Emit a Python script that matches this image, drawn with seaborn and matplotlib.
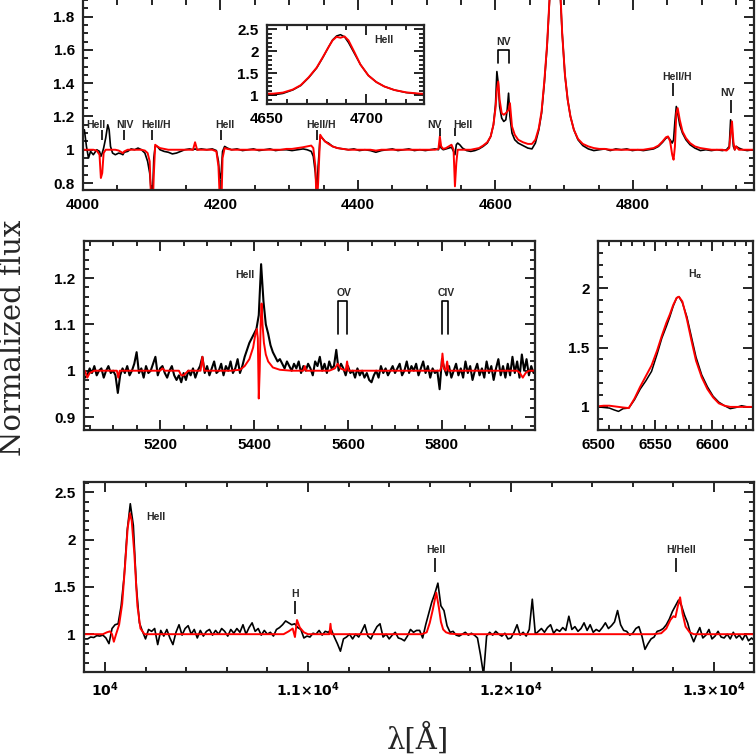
import numpy as np
import matplotlib
matplotlib.use("Agg")
import matplotlib.pyplot as plt
from matplotlib.ticker import MultipleLocator, FuncFormatter, FixedLocator
import seaborn as sns

# --- blue optical range 4000-4975 A: observed (black) and model (red) on one grid
top_wl = [4000, 4002, 4005, 4008, 4011, 4015, 4020, 4024, 4026, 4028,
          4030, 4033, 4036, 4038, 4040, 4043, 4047, 4052, 4056, 4058,
          4060, 4065, 4070, 4075, 4080, 4085, 4090, 4094, 4097, 4099,
          4101, 4103, 4105, 4108, 4112, 4118, 4124, 4130, 4136, 4142,
          4148, 4155, 4160, 4163, 4166, 4172, 4180, 4188, 4194, 4197,
          4199, 4201, 4203, 4206, 4210, 4216, 4224, 4232, 4240, 4248,
          4256, 4264, 4272, 4280, 4288, 4296, 4304, 4312, 4320, 4326,
          4332, 4335, 4338, 4340, 4342, 4345, 4348, 4352, 4357, 4363,
          4370, 4378, 4386, 4394, 4402, 4410, 4418, 4426, 4434, 4442,
          4450, 4458, 4466, 4474, 4482, 4490, 4498, 4505, 4512, 4517,
          4519, 4521, 4524, 4528, 4532, 4536, 4539, 4541, 4543, 4545,
          4548, 4552, 4558, 4564, 4570, 4576, 4582, 4588, 4593, 4597,
          4600, 4602, 4604, 4606, 4609, 4612, 4615, 4617, 4619, 4621,
          4624, 4628, 4633, 4640, 4647, 4653, 4658, 4663, 4667, 4671,
          4675, 4678, 4681, 4683, 4685, 4687, 4689, 4691, 4694, 4697,
          4701, 4705, 4709, 4714, 4720, 4727, 4735, 4743, 4751, 4759,
          4767, 4775, 4783, 4791, 4799, 4807, 4815, 4823, 4830, 4837,
          4843, 4848, 4851, 4854, 4857, 4859, 4861, 4863, 4865, 4868,
          4872, 4877, 4883, 4890, 4898, 4906, 4914, 4922, 4930, 4936,
          4940, 4942, 4944, 4946, 4948, 4950, 4954, 4960, 4966, 4975]
top_obs = [1.10, 1.12, 1.02, 0.95, 0.99, 0.97, 1.00, 0.99, 0.96, 0.98,
           1.01, 1.07, 1.15, 1.12, 1.02, 0.98, 0.97, 0.98, 0.975, 0.97,
           0.985, 0.99, 1.005, 1.00, 1.01, 1.00, 0.98, 0.93, 0.86, 0.76,
           0.70, 0.95, 1.02, 1.02, 1.00, 0.99, 0.985, 0.975, 0.98, 0.99,
           1.00, 1.005, 1.00, 1.005, 1.00, 1.005, 1.00, 1.005, 0.995, 0.93,
           0.82, 0.86, 0.99, 1.02, 1.01, 1.00, 1.005, 0.995, 1.00, 1.005,
           0.995, 1.00, 1.005, 0.995, 1.00, 1.00, 0.995, 1.00, 1.005, 1.00,
           0.99, 0.96, 0.86, 0.74, 0.90, 1.08, 1.07, 1.05, 1.04, 1.02,
           1.01, 1.005, 1.00, 1.005, 0.995, 1.00, 0.995, 0.985, 0.995, 1.00,
           1.005, 0.995, 1.00, 1.005, 0.995, 1.00, 0.995, 1.00, 1.005, 1.00,
           1.03, 1.01, 1.00, 1.005, 1.01, 1.015, 0.99, 0.97, 1.03, 1.04,
           1.03, 1.01, 0.995, 0.99, 0.995, 1.005, 1.02, 1.04, 1.08, 1.15,
           1.27, 1.47, 1.40, 1.26, 1.19, 1.17, 1.18, 1.24, 1.34, 1.20,
           1.10, 1.06, 1.04, 1.025, 1.01, 1.005, 1.04, 1.12, 1.22, 1.40,
           1.62, 1.85, 2.10, 2.26, 2.35, 2.38, 2.33, 2.20, 1.95, 1.70,
           1.45, 1.30, 1.20, 1.12, 1.06, 1.025, 1.005, 0.995, 1.00, 1.005,
           0.995, 1.005, 1.00, 1.005, 0.995, 1.00, 0.995, 1.00, 1.005, 1.02,
           1.045, 1.07, 1.075, 1.06, 1.04, 1.06, 1.17, 1.26, 1.22, 1.15,
           1.10, 1.06, 1.03, 1.01, 0.995, 1.00, 0.995, 1.00, 0.995, 1.00,
           1.02, 1.18, 1.12, 1.02, 1.00, 1.02, 1.01, 1.00, 0.995, 1.00]
top_mod = [1.00, 1.00, 1.00, 1.00, 1.00, 1.00, 0.995, 0.97, 0.83, 0.86,
           0.98, 1.00, 1.00, 1.00, 1.00, 1.00, 1.00, 0.995, 0.985, 0.98,
           0.99, 1.00, 1.00, 1.00, 1.00, 1.00, 0.995, 0.98, 0.93, 0.70,
           0.60, 0.85, 1.03, 1.02, 1.01, 1.005, 1.00, 1.00, 1.00, 1.00,
           1.00, 1.00, 1.00, 1.045, 1.00, 1.00, 1.00, 1.00, 0.99, 0.90,
           0.70, 0.62, 0.95, 1.01, 1.005, 1.00, 1.00, 1.00, 1.00, 1.00,
           1.00, 1.00, 1.00, 1.00, 1.00, 1.005, 1.005, 1.01, 1.015, 1.02,
           1.025, 1.01, 0.90, 0.65, 0.80, 1.09, 1.07, 1.05, 1.035, 1.02,
           1.01, 1.005, 1.00, 1.00, 1.00, 1.00, 1.00, 0.995, 1.00, 1.00,
           1.00, 1.00, 1.00, 1.00, 1.00, 1.00, 1.00, 1.00, 1.00, 1.005,
           1.08, 1.02, 1.005, 1.01, 1.02, 1.03, 1.00, 0.78, 0.92, 1.00,
           1.00, 1.00, 1.00, 1.00, 1.005, 1.01, 1.025, 1.045, 1.08, 1.15,
           1.25, 1.36, 1.41, 1.30, 1.22, 1.21, 1.22, 1.23, 1.24, 1.28,
           1.14, 1.09, 1.06, 1.045, 1.035, 1.035, 1.06, 1.13, 1.23, 1.41,
           1.63, 1.86, 2.10, 2.25, 2.33, 2.31, 2.34, 2.25, 1.98, 1.70,
           1.45, 1.30, 1.20, 1.12, 1.065, 1.035, 1.02, 1.01, 1.005, 1.005,
           1.00, 1.00, 1.00, 1.00, 1.00, 1.00, 1.00, 1.005, 1.01, 1.025,
           1.05, 1.075, 1.08, 1.05, 0.97, 0.94, 1.02, 1.22, 1.25, 1.18,
           1.11, 1.07, 1.04, 1.02, 1.01, 1.005, 1.00, 1.00, 1.00, 0.995,
           1.01, 1.10, 1.17, 1.05, 1.00, 1.02, 1.00, 1.00, 1.00, 1.00]

# --- 5040-6000 A
mid_wl = np.arange(5040, 6000, 5)
mid_obs = [0.985, 0.99, 1.005, 0.995, 1.01, 0.99, 1.0, 1.005, 0.985, 1.0,
           1.01, 0.995, 1.0, 0.99, 0.952, 0.99, 1.005, 0.995, 1.01, 0.99,
           1.0, 1.015, 1.04, 0.995, 1.005, 0.985, 1.01, 0.995, 1.0, 1.015,
           1.03, 0.99, 1.005, 1.01, 0.995, 0.985, 1.0, 1.01, 0.99, 0.98,
           0.99, 0.975, 0.995, 0.98, 1.0, 0.99, 1.005, 0.985, 1.0, 1.01,
           1.03, 0.995, 1.01, 0.99, 1.005, 1.02, 0.995, 1.0, 1.015, 0.99,
           1.01, 1.0, 1.02, 0.995, 1.005, 1.025, 0.995, 1.01, 1.03, 1.045,
           1.06, 1.07, 1.08, 1.09, 1.12, 1.23, 1.15, 1.10, 1.08, 1.055,
           1.04, 1.03, 1.02, 1.025, 1.015, 1.005, 1.02, 1.01, 1.0, 1.015,
           1.005, 1.02, 0.995, 1.01, 1.0, 1.015, 1.005, 0.99, 1.02, 1.01,
           1.03, 1.0, 1.015, 0.995, 1.02, 1.005, 1.01, 1.045, 1.0, 1.015,
           1.005, 0.99, 1.01, 0.995, 1.0, 0.985, 1.005, 0.99, 1.0, 0.985,
           0.995, 0.98, 0.975, 0.99, 1.0, 0.985, 1.01, 0.995, 1.005, 0.99,
           1.0, 1.01, 0.995, 1.005, 1.015, 0.99, 1.0, 1.02, 0.995, 1.01,
           1.0, 1.015, 0.99, 1.005, 1.02, 0.995, 1.01, 0.985, 1.005, 0.995,
           1.0, 0.96, 1.025, 1.005, 0.99, 1.01, 0.985, 1.0, 1.015, 0.99,
           1.005, 0.985, 1.02, 0.995, 1.01, 0.98, 1.0, 1.015, 0.99, 1.005,
           0.985, 1.02, 0.995, 1.01, 0.98, 1.005, 1.025, 0.99, 1.01, 0.985,
           1.015, 0.99, 1.03, 0.995, 1.02, 0.985, 1.035, 1.0, 1.025, 0.99,
           1.01, 0.995]
mid_mod_wl = [5040, 5045, 5050, 5060, 5100, 5108, 5111, 5114, 5120, 5200,
              5205, 5210, 5240, 5245, 5250, 5255, 5260, 5286, 5290, 5294,
              5350, 5370, 5380, 5390, 5398, 5403, 5406, 5408, 5410, 5412,
              5414, 5416, 5418, 5421, 5425, 5430, 5440, 5455, 5480, 5505,
              5508, 5511, 5560, 5572, 5578, 5584, 5595, 5598, 5601, 5700,
              5760, 5796, 5799, 5801, 5804, 5808, 5811, 5814, 5830, 5900,
              5960, 5966, 5972, 5978, 5985, 5998]
mid_mod = [1.0, 0.985, 0.995, 1.0, 1.0, 1.0, 0.985, 1.0, 1.0, 1.0,
           1.005, 1.0, 1.0, 0.99, 0.99, 0.995, 1.0, 1.0, 1.03, 1.0,
           1.0, 1.002, 1.01, 1.025, 1.05, 1.08, 1.09, 1.07, 0.94, 1.0,
           1.10, 1.145, 1.10, 1.06, 1.035, 1.02, 1.007, 1.002, 1.0, 1.0,
           1.01, 1.0, 1.0, 1.005, 1.015, 1.005, 1.0, 1.02, 1.0, 1.0,
           1.0, 1.0, 1.01, 1.037, 1.005, 1.0, 1.02, 1.0, 1.0, 1.0,
           1.0, 0.995, 0.985, 0.995, 1.0, 1.0]

# --- H alpha
ha_wl = [6495, 6500, 6505, 6510, 6514, 6518, 6522, 6527, 6532, 6537,
         6542, 6547, 6552, 6556, 6560, 6563, 6566, 6569, 6571, 6574,
         6578, 6582, 6586, 6591, 6596, 6601, 6606, 6611, 6616, 6621,
         6626, 6631, 6640]
ha_obs = [1.0, 1.0, 0.995, 0.99, 0.975, 0.962, 0.985, 0.99, 1.06, 1.15,
          1.22, 1.30, 1.45, 1.58, 1.68, 1.76, 1.85, 1.92, 1.93, 1.88,
          1.76, 1.59, 1.42, 1.27, 1.17, 1.09, 1.04, 1.01, 0.985, 0.995,
          1.01, 1.0, 1.0]
ha_mod = [1.0, 1.005, 1.01, 1.01, 1.005, 1.0, 0.995, 0.99, 1.07, 1.17,
          1.26, 1.35, 1.48, 1.60, 1.71, 1.78, 1.86, 1.92, 1.93, 1.89,
          1.74, 1.56, 1.39, 1.25, 1.15, 1.08, 1.03, 1.01, 1.0, 1.0,
          1.0, 1.0, 1.0]

# --- near infrared 9900-13200 A
nir_wl = np.arange(9900, 13201, 15)
nir_obs = [0.95, 0.95, 0.97, 0.965, 0.985, 0.98, 0.99, 0.96, 0.90, 1.06,
           1.10, 1.11, 1.30, 1.62, 2.10, 2.38, 2.15, 1.50, 1.12, 1.03,
           0.95, 1.05, 1.03, 1.06, 0.89, 1.04, 0.98, 1.05, 0.96, 0.89,
           1.02, 1.10, 0.99, 1.06, 1.09, 1.0, 1.05, 0.96, 1.04, 0.98,
           1.03, 1.05, 0.99, 1.04, 1.0, 1.06, 1.03, 0.98, 1.05, 1.01,
           1.06, 1.02, 1.10, 1.0, 1.07, 1.12, 1.03, 1.06, 0.99, 1.04,
           1.0, 1.02, 0.98, 1.05, 1.07, 1.10, 1.14, 1.12, 1.10, 1.11,
           1.07, 1.05, 0.96, 0.98, 0.97, 1.01, 1.0, 1.04, 0.99, 1.03,
           1.02, 1.05, 0.97, 0.90, 0.82, 0.95, 0.97, 1.0, 0.95, 1.0,
           0.97, 1.03, 1.10, 0.98, 0.95, 1.02, 1.08, 1.11, 0.97, 1.0,
           0.95, 0.99, 1.02, 0.96, 0.95, 0.93, 0.98, 1.05, 1.02, 1.04,
           1.04, 0.96, 1.10, 1.22, 1.34, 1.43, 1.54, 1.30, 1.25, 1.09,
           1.02, 1.03, 0.99, 0.98, 1.0, 1.02, 0.99, 1.01, 0.99, 0.96,
           0.78, 0.57, 0.98, 1.02, 0.99, 1.03, 1.0, 0.98, 1.01, 0.95,
           0.96, 1.02, 1.10, 0.99, 1.02, 0.98, 1.05, 1.37, 1.0, 1.03,
           1.06, 1.02, 1.07, 1.10, 1.01, 1.05, 1.03, 1.07, 1.04, 1.19,
           1.05, 1.08, 1.03, 1.06, 1.12, 1.04, 1.10, 1.02, 1.05, 1.03,
           1.07, 1.12, 1.06, 1.09, 1.13, 1.25, 1.10, 1.04, 1.03, 0.99,
           1.01, 1.06, 1.08, 0.98, 0.84, 0.90, 0.95, 0.97, 1.03, 1.04,
           1.06, 1.10, 1.16, 1.24, 1.30, 1.36, 1.30, 1.20, 1.12, 1.0,
           0.92, 1.0, 1.07, 0.96, 0.99, 1.05, 0.95, 0.98, 1.03, 0.97,
           0.96, 1.0, 0.95, 1.02, 0.96, 0.99, 0.94, 1.0, 0.93, 0.96,
           0.93]
nir_mod_wl = [9900, 9990, 10010, 10025, 10035, 10044, 10055, 10070, 10085, 10100,
              10112, 10123, 10132, 10145, 10160, 10175, 10195, 10300, 10880, 10905,
              10925, 10936, 10946, 10960, 10980, 11000, 11100, 11106, 11111, 11116,
              11125, 11560, 11585, 11600, 11615, 11632, 11645, 11655, 11666, 11680,
              11700, 11740, 12700, 12740, 12765, 12785, 12800, 12810, 12822, 12833,
              12845, 12860, 12880, 12900, 13200]
nir_mod = [1.0, 1.0, 1.02, 1.03, 1.0, 0.92, 1.0, 1.10, 1.32, 1.75,
           2.12, 2.28, 2.20, 1.85, 1.30, 1.06, 1.0, 1.0, 1.0, 1.03,
           1.06, 0.97, 1.15, 1.07, 1.02, 1.0, 1.0, 1.0, 1.11, 1.0,
           1.0, 1.0, 1.02, 1.12, 1.26, 1.44, 1.28, 1.13, 1.05, 1.02,
           1.005, 1.0, 1.0, 1.01, 1.06, 1.15, 1.19, 1.18, 1.30, 1.39,
           1.22, 1.08, 1.02, 1.0, 1.0]
nir_tick_pos = [10000, 11000, 12000, 13000]
nir_tick_labels = [r'$10^4$', r'$1.1{\times}10^4$', r'$1.2{\times}10^4$', r'$1.3{\times}10^4$']

# --- line identifications
top_ids = ['HeII', 'NIV', 'HeII/H', 'HeII', 'HeII/H', 'NV', 'HeII', 'HeII/H', 'NV']
top_id_wl = [4028, 4060, 4100, 4201, 4340, 4519, 4541, 4858, 4943]
top_id_text_wl = [4019, 4061, 4106, 4207, 4346, 4512, 4553, 4864, 4937]
top_id_y = [1.15, 1.15, 1.15, 1.15, 1.15, 1.15, 1.15, 1.44, 1.34]
top_id_lo = [1.06, 1.06, 1.06, 1.06, 1.06, 1.08, 1.08, 1.32, 1.22]
top_id_hi = [1.12, 1.12, 1.12, 1.12, 1.12, 1.13, 1.13, 1.40, 1.30]
nv_doublet = [4604, 4619]

nir_ids = ['H', 'HeII', 'H/HeII']
nir_id_wl = [10936, 11626, 12813]
nir_id_text_wl = [10936, 11631, 12837]
nir_id_y = [1.43, 1.89, 1.89]
nir_id_lo = [1.21, 1.66, 1.66]
nir_id_hi = [1.35, 1.81, 1.81]

sns.set_style("ticks")
plt.rcParams['font.family'] = ['Liberation Sans', 'DejaVu Sans']
plt.rcParams['font.weight'] = 'bold'
plt.rcParams['axes.linewidth'] = 1.6


def spec(ax, x, y, color, lw):
    sns.lineplot(x=x, y=y, ax=ax, color=color, lw=lw, sort=False,
                 estimator=None, legend=False)


def style(ax, xlim, ylim, xmaj, xmin, ymaj, ymin, size=11):
    ax.set_xlim(xlim)
    ax.set_ylim(ylim)
    if xmaj:
        ax.xaxis.set_major_locator(MultipleLocator(xmaj))
    ax.xaxis.set_minor_locator(MultipleLocator(xmin))
    ax.yaxis.set_major_locator(MultipleLocator(ymaj))
    ax.yaxis.set_minor_locator(MultipleLocator(ymin))
    ax.yaxis.set_major_formatter(FuncFormatter(lambda v, p: f'{v:g}'))
    ax.tick_params(which='both', direction='in', top=True, right=True,
                   width=1.2, labelsize=size, pad=6, colors='black')
    ax.tick_params(which='major', length=7)
    ax.tick_params(which='minor', length=3.5)
    ax.set_xlabel('')
    ax.set_ylabel('')


def ident(ax, x, lo, hi):
    ax.vlines(x, lo, hi, color='black', lw=1.2)


fig = plt.figure(figsize=(7.56, 7.54), dpi=100)

# top panel
ax1 = fig.add_axes([83 / 756, 1 - 190 / 754, 671 / 756, 190 / 754])
spec(ax1, top_wl, top_obs, 'black', 1.2)
spec(ax1, top_wl, top_mod, 'red', 1.4)
style(ax1, (4000, 4976), (0.758, 1.9), 200, 50, 0.2, 0.05)
ax1.spines['top'].set_visible(False)
for t, tx, y, x, lo, hi in zip(top_ids, top_id_text_wl, top_id_y, top_id_wl, top_id_lo, top_id_hi):
    ax1.text(tx, y, t, ha='center', va='center', fontsize=7.5)
    ident(ax1, x, lo, hi)
ax1.plot([nv_doublet[0], nv_doublet[0], nv_doublet[1], nv_doublet[1]],
         [1.52, 1.60, 1.60, 1.52], color='black', lw=1.2)
ax1.text(np.mean(nv_doublet), 1.65, 'NV', ha='center', va='center', fontsize=7.5)

# inset around HeII 4686
axi = fig.add_axes([267 / 756, 1 - 104 / 754, 157 / 756, 79 / 754])
spec(axi, top_wl, top_obs, 'black', 1.1)
spec(axi, top_wl, top_mod, 'red', 1.4)
style(axi, (4650, 4729), (0.8, 2.6), 50, 10, 0.5, 0.1)
axi.text(4709, 2.26, 'HeII', ha='center', va='center', fontsize=7.5)

# middle left
ax2 = fig.add_axes([84 / 756, 1 - 430 / 754, 451 / 756, 189 / 754])
spec(ax2, mid_wl, mid_obs, 'black', 1.5)
spec(ax2, mid_mod_wl, mid_mod, 'red', 1.4)
style(ax2, (5038, 5998), (0.872, 1.28), 200, 50, 0.1, 0.02)
ax2.text(5381, 1.207, 'HeII', ha='center', va='center', fontsize=7.5)
for name, (a, b), tx in [('OV', (5578, 5598), 5592), ('CIV', (5801, 5812), 5808)]:
    ax2.plot([a, a, b, b], [1.08, 1.15, 1.15, 1.08], color='black', lw=1.2)
    ax2.text(tx, 1.168, name, ha='center', va='center', fontsize=7.5)

# middle right, H alpha
ax3 = fig.add_axes([598 / 756, 1 - 430 / 754, 155 / 756, 189 / 754])
spec(ax3, ha_wl, ha_obs, 'black', 1.1)
spec(ax3, ha_wl, ha_mod, 'red', 1.4)
style(ax3, (6500, 6636), (0.805, 2.4), 50, 10, 0.5, 0.1)
ax3.text(6585, 2.12, r'H$_{\mathbf{\alpha}}$', ha='center', va='center', fontsize=7.5)

# bottom, near infrared
ax4 = fig.add_axes([84 / 756, 1 - 672 / 754, 670 / 756, 190 / 754])
spec(ax4, nir_wl, nir_obs, 'black', 1.2)
spec(ax4, nir_mod_wl, nir_mod, 'red', 1.4)
style(ax4, (9897, 13197), (0.6, 2.61), None, 200, 0.5, 0.1)
ax4.xaxis.set_major_locator(FixedLocator(nir_tick_pos))
ax4.set_xticklabels(nir_tick_labels, fontsize=10)
ax4.text(10251, 2.24, 'HeII', ha='center', va='center', fontsize=7.5)
for t, tx, y, x, lo, hi in zip(nir_ids, nir_id_text_wl, nir_id_y, nir_id_wl, nir_id_lo, nir_id_hi):
    ax4.text(tx, y, t, ha='center', va='center', fontsize=7.5)
    ident(ax4, x, lo, hi)

fig.text(0.017, 0.552, 'Normalized flux', rotation=90, ha='center', va='center',
         family='DejaVu Serif', fontweight='normal', fontsize=21)
fig.text(0.553, 0.021, 'λ[Å]', ha='center', va='center',
         family='DejaVu Serif', fontweight='normal', fontsize=21)

fig.savefig('out.png', dpi=100)
